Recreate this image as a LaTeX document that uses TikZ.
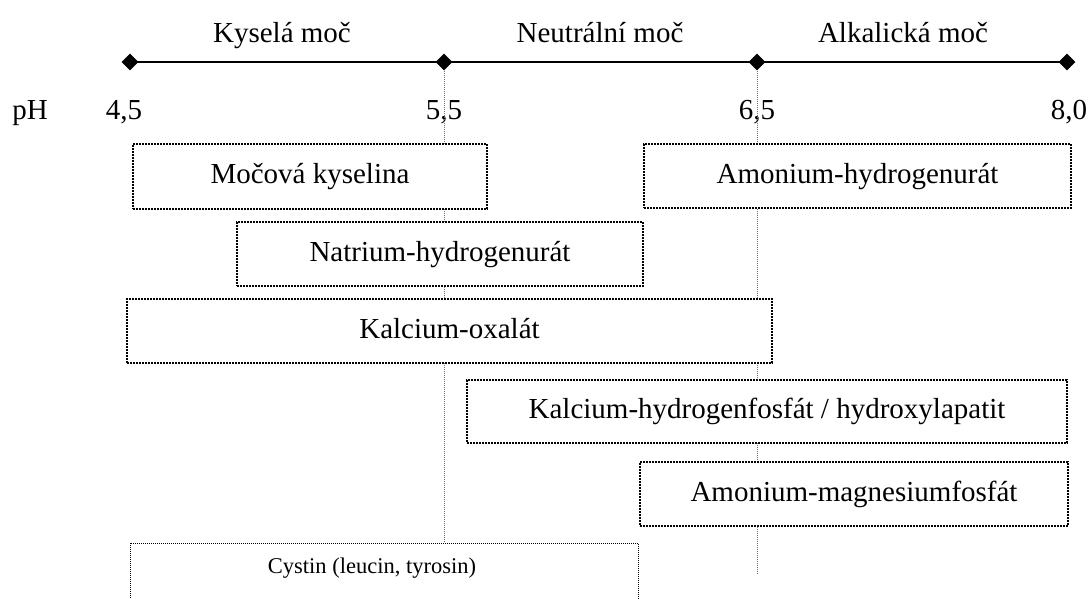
\documentclass[tikz,border=0pt]{standalone}
\usepackage{fontspec}
\setmainfont{Liberation Serif}
\usetikzlibrary{shapes.geometric}
\newcommand\mainsz{\fontsize{29}{34}\selectfont}
\newcommand\cystsz{\fontsize{22.5}{27}\selectfont}
\begin{document}
\begin{tikzpicture}[x=1pt,y=-1pt,
  tick/.style={diamond, fill=black, draw=none, inner sep=0pt, minimum width=17pt, minimum height=17pt},
  lbl/.style={font=\mainsz, inner sep=0pt, anchor=base},
  phline/.style={draw=black!55, line width=0.8pt, dash pattern=on 1pt off 1pt},
  stonebox/.style={draw=black, fill=white, line width=1.6pt, dash pattern=on 1.6pt off 1.4pt, inner sep=0pt, font=\mainsz, text height=20pt, text depth=6pt},
  cystbox/.style={draw=black, fill=white, line width=0.8pt, dash pattern=on 1pt off 1pt, inner sep=0pt}
]
\useasboundingbox (0,0) rectangle (1089,599);
\clip (0,0) rectangle (1089,599);
% ticks
\node[tick] (t1) at (130,62) {};
\node[tick] (t2) at (444,62) {};
\node[tick] (t3) at (757,62) {};
\node[tick] (t4) at (1067,62) {};
\draw[line width=1.6pt] (t1.center) -- (t4.center);
% zone labels
\node[lbl] (kys) at (282,43) {Kyselá moč};
\node[lbl] (neu) at (600,43) {Neutrální moč};
\node[lbl] (alk) at (903,43) {Alkalická moč};
% pH labels
\node[lbl] (ph) at (30,120) {pH};
\node[lbl] (p1) at (124,120) {4,5};
\node[lbl] (p2) at (444,120) {5,5};
\node[lbl] (p3) at (757,120) {6,5};
\node[lbl] (p4) at (1069,120) {8,0};
% vertical dotted lines
\coordinate (e2) at (444,543);
\coordinate (e3) at (757,574);
\draw[phline] (t2.south) -- (e2);
\draw[phline] (t3.south) -- (e3);
% boxes
\node[stonebox, minimum width=354pt, minimum height=65pt] (b1) at (310,176.5) {Močová kyselina};
\node[stonebox, minimum width=427pt, minimum height=64pt] (b2) at (857.5,176) {Amonium-hydrogenurát};
\node[stonebox, minimum width=406pt, minimum height=64pt] (b3) at (440,254) {Natrium-hydrogenurát};
\node[stonebox, minimum width=645pt, minimum height=64pt] (b4) at (449.5,331) {Kalcium-oxalát};
\node[stonebox, minimum width=600pt, minimum height=63pt] (b5) at (767,411.5) {Kalcium-hydrogenfosfát / hydroxylapatit};
\node[stonebox, minimum width=428pt, minimum height=64pt] (b6) at (854,494) {Amonium-magnesiumfosfát};
\node[cystbox, minimum width=508pt, minimum height=80pt] (b7) at (384,583) {};
\node[font=\cystsz, inner sep=0pt] (c7) at (372,568) {Cystin (leucin, tyrosin)};
\end{tikzpicture}
\end{document}
